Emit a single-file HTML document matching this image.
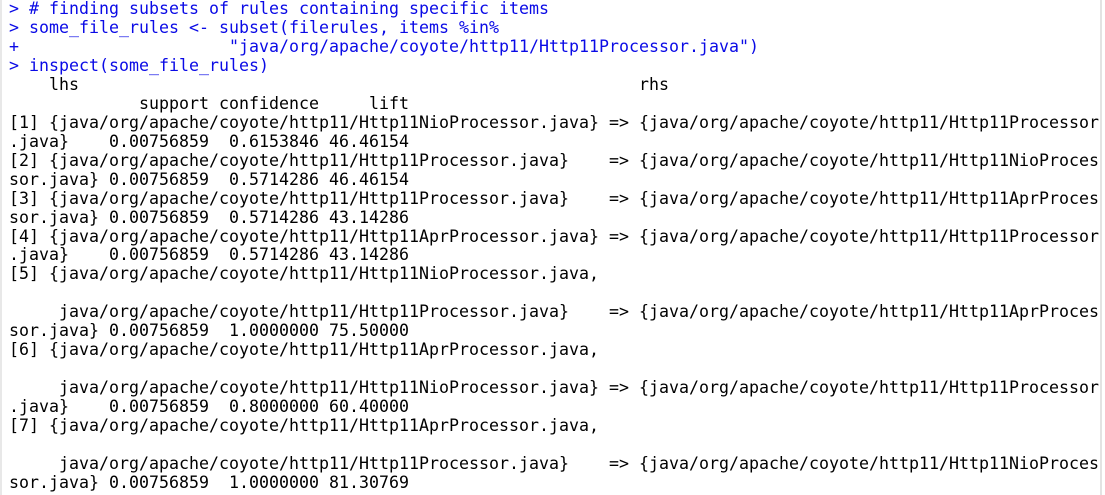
<!DOCTYPE html>
<html>
<head>
<meta charset="utf-8">
<style>
  html, body {
    margin: 0;
    padding: 0;
    background: #ffffff;
  }
  body {
    width: 1105px;
    height: 495px;
    position: relative;
    overflow: hidden;
  }
  .ln {
    position: absolute;
    left: 9px;
    height: 18.96px;
    line-height: 18.96px;
    white-space: pre;
    font-family: "DejaVu Sans Mono", "Liberation Mono", monospace;
    font-size: 16.61px;
    color: #000000;
  }
  .in { color: #0a0ae6; }
  .lb {
    position: absolute;
    left: 0; top: 0;
    width: 2px; height: 495px;
    background: #e8e8e8;
  }
  .rb {
    position: absolute;
    left: 1100px; top: 0;
    width: 2px; height: 495px;
    background: #e3e3e3;
  }
</style>
</head>
<body>
<div class="lb"></div>
<div class="rb"></div>

<div class="ln in" style="top:0px">&gt; # finding subsets of rules containing specific items</div>
<div class="ln in" style="top:18.96px">&gt; some_file_rules &lt;- subset(filerules, items %in%</div>
<div class="ln in" style="top:37.92px">+                     "java/org/apache/coyote/http11/Http11Processor.java")</div>
<div class="ln in" style="top:56.88px">&gt; inspect(some_file_rules)</div>
<div class="ln" style="top:75.84px">    lhs                                                        rhs</div>
<div class="ln" style="top:94.80px">             support confidence     lift</div>
<div class="ln" style="top:113.76px">[1] {java/org/apache/coyote/http11/Http11NioProcessor.java} =&gt; {java/org/apache/coyote/http11/Http11Processor</div>
<div class="ln" style="top:132.72px">.java}    0.00756859  0.6153846 46.46154</div>
<div class="ln" style="top:151.68px">[2] {java/org/apache/coyote/http11/Http11Processor.java}    =&gt; {java/org/apache/coyote/http11/Http11NioProces</div>
<div class="ln" style="top:170.64px">sor.java} 0.00756859  0.5714286 46.46154</div>
<div class="ln" style="top:189.60px">[3] {java/org/apache/coyote/http11/Http11Processor.java}    =&gt; {java/org/apache/coyote/http11/Http11AprProces</div>
<div class="ln" style="top:208.56px">sor.java} 0.00756859  0.5714286 43.14286</div>
<div class="ln" style="top:227.52px">[4] {java/org/apache/coyote/http11/Http11AprProcessor.java} =&gt; {java/org/apache/coyote/http11/Http11Processor</div>
<div class="ln" style="top:246.48px">.java}    0.00756859  0.5714286 43.14286</div>
<div class="ln" style="top:265.44px">[5] {java/org/apache/coyote/http11/Http11NioProcessor.java,</div>
<div class="ln" style="top:303.36px">     java/org/apache/coyote/http11/Http11Processor.java}    =&gt; {java/org/apache/coyote/http11/Http11AprProces</div>
<div class="ln" style="top:322.32px">sor.java} 0.00756859  1.0000000 75.50000</div>
<div class="ln" style="top:341.28px">[6] {java/org/apache/coyote/http11/Http11AprProcessor.java,</div>
<div class="ln" style="top:379.20px">     java/org/apache/coyote/http11/Http11NioProcessor.java} =&gt; {java/org/apache/coyote/http11/Http11Processor</div>
<div class="ln" style="top:398.16px">.java}    0.00756859  0.8000000 60.40000</div>
<div class="ln" style="top:417.12px">[7] {java/org/apache/coyote/http11/Http11AprProcessor.java,</div>
<div class="ln" style="top:455.04px">     java/org/apache/coyote/http11/Http11Processor.java}    =&gt; {java/org/apache/coyote/http11/Http11NioProces</div>
<div class="ln" style="top:474.00px">sor.java} 0.00756859  1.0000000 81.30769</div>
</body>
</html>
